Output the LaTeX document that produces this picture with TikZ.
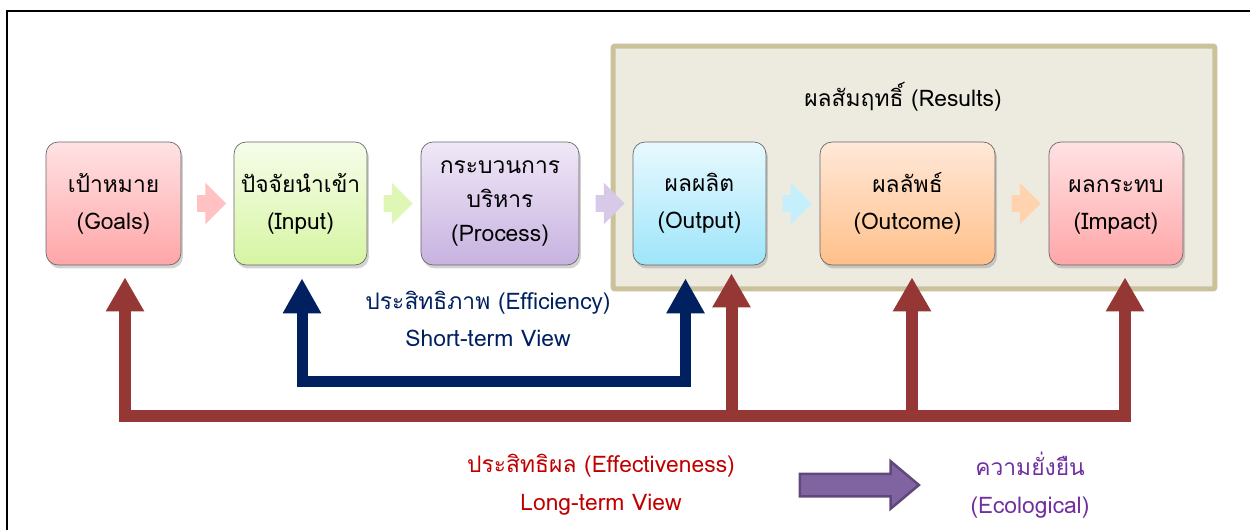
\documentclass[tikz,border=0pt]{standalone}
\usepackage{fontspec}
\setmainfont[Script=Thai]{Loma}
\usetikzlibrary{arrows.meta,shadows,shapes.arrows,calc}
\definecolor{navyline}{HTML}{002060}
\definecolor{redline}{HTML}{953735}
\definecolor{redtext}{HTML}{C00000}
\definecolor{purpletext}{HTML}{7030A0}
\definecolor{resfill}{HTML}{EDEBE0}
\definecolor{resdraw}{HTML}{C9C29B}
\definecolor{goalstop}{HTML}{FFE2E4}
\definecolor{goalsbot}{HTML}{FFA6A8}
\definecolor{inputtop}{HTML}{F6FDEA}
\definecolor{inputbot}{HTML}{D6F5A2}
\definecolor{processtop}{HTML}{F0E8F7}
\definecolor{processbot}{HTML}{C7B2E0}
\definecolor{outputtop}{HTML}{E8F9FF}
\definecolor{outputbot}{HTML}{9EE5FA}
\definecolor{outcometop}{HTML}{FFE8D8}
\definecolor{outcomebot}{HTML}{FFC08A}
\definecolor{trendfill}{HTML}{8064A2}
\definecolor{trenddraw}{HTML}{5F497A}
\begin{document}
\begin{tikzpicture}[x=0.02cm,y=-0.02cm,font=\fontsize{13}{21}\selectfont,line join=miter,
	stage/.style={draw=gray!80!black,rounded corners=0.24cm,minimum height=2.46cm,align=center,
		drop shadow={shadow xshift=0.04cm,shadow yshift=-0.07cm,opacity=0.35}},
	link/.style={single arrow,minimum height=0.58cm,minimum width=0.64cm,inner xsep=0pt,inner ysep=0.16cm,fill=#1},
	effarrow/.style={navyline,line width=0.22cm,{Triangle[width=0.72cm,length=0.7cm]}-{Triangle[width=0.72cm,length=0.7cm]},shorten <=0.26cm,shorten >=0.26cm},
	resarrow/.style={redline,line width=0.24cm,-{Triangle[width=0.72cm,length=0.68cm]},shorten >=#1},
	resarrow/.default=0.24cm]
	\useasboundingbox (0,0) rectangle (1250,530);
	\draw[line width=0.05cm] (7,530) |- (1250,11);
	\node[draw=resdraw,fill=resfill,line width=0.1cm,rounded corners=0.04cm,minimum width=12.04cm,minimum height=4.86cm] (results) at (914,167.5) {};
	\node (resultslabel) at (903,97) {ผลสัมฤทธิ์ (Results)};
	\node[stage,minimum width=2.7cm,top color=goalstop,bottom color=goalsbot] (goals) at (113.5,203.5) {เป้าหมาย\\(Goals)};
	\node[stage,minimum width=2.66cm,top color=inputtop,bottom color=inputbot] (input) at (300.5,203.5) {ปัจจัยนำเข้า\\(Input)};
	\node[stage,minimum width=3.16cm,top color=processtop,bottom color=processbot,font=\fontsize{13}{19.5}\selectfont] (process) at (500,203.5) {กระบวนการ\\บริหาร\\(Process)};
	\node[stage,minimum width=2.66cm,top color=outputtop,bottom color=outputbot] (output) at (699.5,203.5) {ผลผลิต\\(Output)};
	\node[stage,minimum width=3.5cm,top color=outcometop,bottom color=outcomebot] (outcome) at (907.5,203.5) {ผลลัพธ์\\(Outcome)};
	\node[stage,minimum width=2.68cm,top color=goalstop,bottom color=goalsbot] (impact) at (1116,203.5) {\vphantom{เป้า}ผลกระทบ\\(Impact)};
	\node[link=goalsbot!70] at ($(goals.east)!0.5!(input.west)$) {};
	\node[link=inputbot!80] at ($(input.east)!0.5!(process.west)$) {};
	\node[link=processbot!70] at ($(process.east)!0.5!(output.west)$) {};
	\node[link=outputbot!60] at ($(output.east)!0.5!(outcome.west)$) {};
	\node[link=outcomebot!70] at ($(outcome.east)!0.5!(impact.west)$) {};
	\coordinate (efflevel) at (0,381);
	\coordinate (reslevel) at (0,416);
	\coordinate (effL) at ([xshift=0.03cm]input.south);
	\coordinate (effR) at ([xshift=-0.28cm]output.south);
	\coordinate (resG) at ([xshift=0.23cm]goals.south);
	\coordinate (resO) at ([xshift=0.64cm]output.south);
	\coordinate (resC) at ([xshift=0.09cm]outcome.south);
	\coordinate (resI) at ([xshift=0.18cm]impact.south);
	\draw[effarrow] (effL) |- (effR |- efflevel) -- (effR);
	\draw[resarrow,{Triangle[width=0.72cm,length=0.68cm]}-{Triangle[width=0.72cm,length=0.68cm]},shorten <=0.24cm] (resG) |- (resI |- reslevel) -- (resI);
	\draw[resarrow=0.16cm] (resO |- reslevel) -- (resO);
	\draw[resarrow] (resC |- reslevel) -- (resC);
	\node[navyline,align=center] (efficiency) at (488,319) {ประสิทธิภาพ (Efficiency)\\[0.5pt]Short-term View};
	\node[redtext,align=center] (effective) at (601,485) {ประสิทธิผล (Effectiveness)\\[0.5pt]Long-term View};
	\node[purpletext,align=center] (ecological) at (1030,485) {ความยั่งยืน\\[0.5pt](Ecological)};
	\node[single arrow,minimum height=2.38cm,minimum width=0.8cm,inner xsep=0pt,inner ysep=0.2cm,single arrow tip angle=80,
		fill=trendfill,draw=trenddraw,line width=0.05cm] (trend) at ($(effective.east)!0.5!(ecological.west)$) {};
\end{tikzpicture}
\end{document}
